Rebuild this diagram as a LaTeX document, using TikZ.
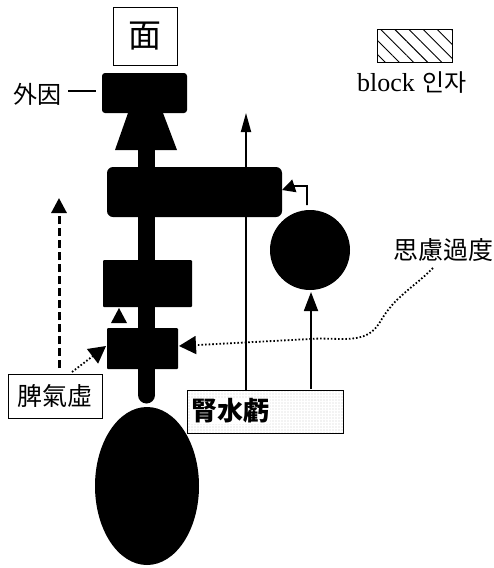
\documentclass[tikz,border=0pt]{standalone}
\usepackage{fontspec}
\setmainfont{Liberation Serif}
\newfontfamily\kr{Noto Sans CJK KR}
\usetikzlibrary{arrows.meta,patterns,patterns.meta}
\begin{document}
\begin{tikzpicture}[x=1pt,y=-1pt,
  blk/.style={fill=black,rounded corners=3pt},
  lbl/.style={draw=black,line width=0.8pt,inner sep=3pt,font=\kr\fontsize{25pt}{25pt}\selectfont},
  bigtip/.style={-{Triangle[length=17pt,width=18pt]}},
  dots/.style={line width=1.8pt,dash pattern=on 1.6pt off 2pt},
  thin/.style={line width=1.8pt}]
\useasboundingbox (0,0) rectangle (494,568);
% title box
\node[lbl,minimum width=64pt,minimum height=58pt,font=\kr\fontsize{33pt}{33pt}\selectfont] (face) at (145,36) {面};
% external factor
\node[font=\kr\fontsize{24pt}{24pt}\selectfont,anchor=west,inner sep=0pt] (ext) at (13,94) {外因};
\coordinate (extE) at (96,91);
\draw[line width=1.2pt] (ext.east) ++(7,-3) -- (extE);
% top block
\fill[blk] (102,73) rectangle (187,113);
% trapezoid arrowhead
\fill (128,113) -- (163,113) -- (177,150) -- (115,150) -- cycle;
\fill (138,148) rectangle (155,170);
% big horizontal block
\fill[blk,rounded corners=6pt] (107,167) rectangle (282,217);
\coordinate (bigR) at (282,190);
% main stem
\fill (138,212) rectangle (155,395);
\fill (146.5,395) circle[radius=8.5pt];
% block 3
\fill[blk,rounded corners=1pt] (103,260) rectangle (192,307);
% small triangle
\fill (119,308) -- (127,323) -- (111,323) -- cycle;
% block 4
\fill[blk,rounded corners=1pt] (107,328) rectangle (178,369);
\coordinate (b4L) at (106,346);
\coordinate (b4R) at (179,346);
% ellipse
\fill (147,486) ellipse[x radius=52pt,y radius=79pt];
% circle
\fill (310,250) circle[radius=40pt];
\coordinate (circB) at (311,292);
% labels
\node[lbl,minimum width=94pt,minimum height=44pt] (spleen) at (55,396) {脾氣虛};
\node[lbl,anchor=north west,minimum width=156pt,minimum height=43pt,pattern={Dots[distance=3pt,radius=0.35pt]},pattern color=black!55] (kidbox) at (187,390) {};
\node[fill=white,inner sep=1pt,font=\kr\fontsize{26pt}{26pt}\selectfont\bfseries,anchor=west] (kid) at (190,411) {腎水虧};
\node[font=\kr\fontsize{25pt}{25pt}\selectfont,anchor=east,inner sep=0pt] (think) at (494,250) {思慮過度};
% legend
\node[draw=black,line width=0.8pt,minimum width=75pt,minimum height=33pt,pattern={Lines[angle=-45,distance=10pt,line width=0.9pt]}] (leg) at (414.5,45.5) {};
\node[anchor=center,inner sep=0pt] (legt) at (412,83) {\fontsize{26pt}{26pt}\selectfont block\hspace{8pt}{\kr\fontsize{24pt}{24pt}\selectfont 인자}};
% arrows
\draw[line width=3pt,dash pattern=on 8pt off 4pt,-{Triangle[length=15pt,width=15pt]}] (59,368) -- (59,198);
\draw[dots,bigtip] (72,372) -- (b4L);
\draw[thin,-{Triangle[length=19pt,width=10pt]}] (246,390) -- (246,113);
\draw[thin,-{Triangle[length=19pt,width=14pt]}] (311,389) -- (circB);
\draw[thin,-{Triangle[length=13pt,width=13pt]}] (307,205) -- (307,186) -- (294,186) -- (bigR);
\coordinate (thinkS) at (433,268);
\draw[dots,bigtip] (thinkS) to[out=225,in=60] (380,322) to[out=240,in=5] (310,339) -- (b4R);
\end{tikzpicture}
\end{document}
